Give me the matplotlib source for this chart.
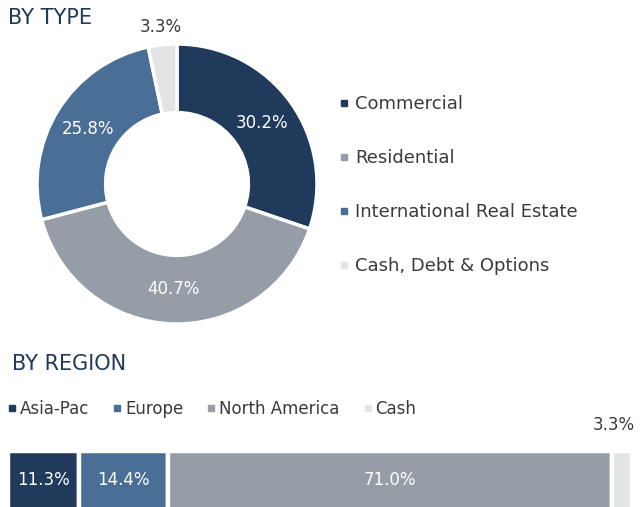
import matplotlib.pyplot as plt
from matplotlib.lines import Line2D
import numpy as np

plt.rcParams['font.family'] = ['DejaVu Sans']

# data
type_labels = ["Commercial", "Residential", "International Real Estate", "Cash, Debt & Options"]
type_values = [30.2, 40.7, 25.8, 3.3]
type_colors = ["#1f3a5a", "#959da6", "#4a6f96", "#e3e4e6"]

region_labels = ["Asia-Pac", "Europe", "North America", "Cash"]
region_values = [11.3, 14.4, 71.0, 3.3]
region_colors = ["#1f3a5a", "#4a6f96", "#959da6", "#e3e4e6"]

navy = "#1f3a5a"
txt = "#3a3a3a"

fig = plt.figure(figsize=(6.4, 5.07), dpi=100)
W, H = 640, 507

# donut
ax = fig.add_axes([37 / W, (H - 184 - 140) / H, 280 / W, 280 / H])
wedges, texts, autotexts = ax.pie(type_values, colors=type_colors, startangle=90, counterclock=False,
                                  autopct='%1.1f%%', pctdistance=0.75,
                                  wedgeprops=dict(width=0.49, edgecolor='white', linewidth=2.5),
                                  textprops=dict(color='white', fontsize=12))
x, y = autotexts[3].get_position()
autotexts[3].set_position((x * 1.13 / 0.75, y * 1.13 / 0.75))
autotexts[3].set_color(txt)
ax.set_xlim(-1, 1)
ax.set_ylim(-1, 1)
ax.set_aspect('equal')

fig.text(8 / W, 1 - 18 / H, "BY TYPE", color=navy, fontsize=15, va='center', ha='left')

handles = [Line2D([], [], marker='s', linestyle='', markersize=5, color=c) for c in type_colors]
fig.legend(handles, type_labels, loc='upper left', bbox_to_anchor=(339 / W, 1 - 95 / H),
           frameon=False, fontsize=13, labelspacing=2.0, handlelength=0.6, handletextpad=0.3,
           labelcolor=txt, borderpad=0, borderaxespad=0)

# region bar
fig.text(12 / W, 1 - 364 / H, "BY REGION", color=navy, fontsize=15, va='center', ha='left')

rh = [Line2D([], [], marker='s', linestyle='', markersize=4.5, color=c) for c in region_colors]
fig.legend(rh, region_labels, loc='center left', bbox_to_anchor=(8 / W, 1 - 409 / H), ncol=4,
           frameon=False, fontsize=12, handlelength=0.5, handletextpad=0.2, columnspacing=1.45,
           labelcolor=txt, borderpad=0, borderaxespad=0)

bx = fig.add_axes([8 / W, -23 / H, 626 / W, 79 / H])
lefts = np.concatenate([[0], np.cumsum(region_values)[:-1]])
bx.barh(0.5, region_values, left=lefts, height=1.0, color=region_colors,
        edgecolor='white', linewidth=3.2)
bx.set_xlim(0, 100.3)
bx.set_ylim(0, 1)
for l, v in zip(lefts[:3], region_values[:3]):
    bx.text(l + v / 2, 0.633, f"{v:.1f}%", color='white', fontsize=12, ha='center', va='center')
bx.text(lefts[3] + region_values[3] + 0.4, 1.33, f"{region_values[3]:.1f}%", color=txt,
        fontsize=12, ha='right', va='center', clip_on=False)
bx.axis('off')

fig.savefig("out.png", dpi=100)
